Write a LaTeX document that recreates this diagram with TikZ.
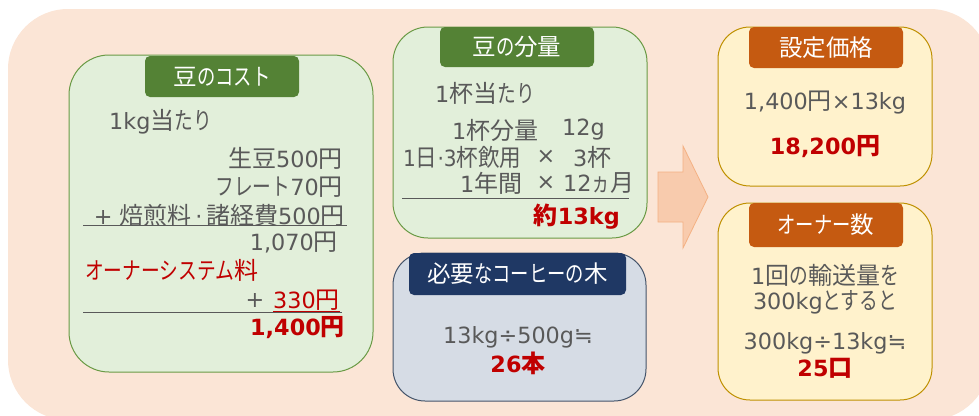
\documentclass[tikz,border=0pt]{standalone}
\usepackage{fontspec}
\usepackage{graphicx}
\setmainfont{Noto Sans CJK JP}
\newfontfamily\latfont{DejaVu Sans}[Scale=0.93]
\newfontfamily\knfont{Noto Sans CJK JP}[FakeStretch=0.78]
\newcommand\lat[1]{{\latfont#1}}
\newcommand\kn[1]{{\knfont#1}}
\definecolor{bgpeach}{HTML}{FBE5D6}
\definecolor{greenfill}{HTML}{E2EFDA}
\definecolor{greenline}{HTML}{6A9A45}
\definecolor{greentag}{HTML}{548235}
\definecolor{bluefill}{HTML}{D6DCE5}
\definecolor{blueline}{HTML}{44546A}
\definecolor{bluetag}{HTML}{1F3864}
\definecolor{yellowfill}{HTML}{FFF2CC}
\definecolor{yellowline}{HTML}{BF9000}
\definecolor{orangetag}{HTML}{C55A11}
\definecolor{arrowfill}{HTML}{F8CBAD}
\definecolor{arrowline}{HTML}{F4B183}
\definecolor{txtgray}{HTML}{595959}
\definecolor{txtred}{HTML}{C00000}
\tikzset{
  panel/.style={rectangle, inner sep=0pt, line width=1pt},
  greenbox/.style={panel, draw=greenline, fill=greenfill, rounded corners=40pt},
  bluebox/.style={panel, draw=blueline, fill=bluefill, rounded corners=32pt},
  yellowbox/.style={panel, draw=yellowline, fill=yellowfill, rounded corners=32pt},
  tag/.style={rectangle, rounded corners=5pt, inner sep=0pt, text=white,
    font=\fontsize{23.5}{27}\selectfont},
  body/.style={inner sep=0pt, text=txtgray, font=\fontsize{24}{28}\selectfont},
  red/.style={body, text=txtred},
  bred/.style={body, text=txtred, font=\fontsize{24}{28}\selectfont\bfseries},
  rule/.style={draw=txtgray, line width=0.9pt},
}
\begin{document}
\begin{tikzpicture}[x=1pt,y=-1pt]
\useasboundingbox (0,0) rectangle (979,415);
\fill[bgpeach, rounded corners=60pt] (8,9) rectangle (990,420);

% box 1
\node[greenbox, minimum width=304pt, minimum height=317pt] (b1) at (221,213.5) {};
\node[tag, fill=greentag, minimum width=154pt, minimum height=41pt] (t1) at (222,76.5) {豆\kn{のコスト}};
\node[body, anchor=west] (l11) at (109,122) {\lat{1kg}当\kn{たり}};
\node[body, anchor=east] (l12) at (343,158) {生豆\lat{500}円};
\node[body, anchor=east] (l13) at (343,187) {\kn{フレート}\lat{70}円};
\node[body, anchor=east] (l14) at (345,215) {\lat{+}\hspace{7pt}焙煎料\lat{\,·\,}諸経費\lat{500}円};
\draw[rule] (83,225.5) -- (347,225.5);
\node[body, anchor=east] (l15) at (338,243) {\lat{1,070}円};
\node[red, anchor=west] (l16) at (85,270) {\kn{オーナーシステム}料};
\node[red, anchor=east] (l17) at (340,300) {\lat{330}円};
\node[body] (l17p) at (255,300) {\lat{+}};
\draw[rule] (83,312.5) -- (342,312.5);
\draw[draw=txtred, line width=0.9pt] (l17.west |- 0,311) -- (340,311);
\node[bred, anchor=east] (l18) at (345,328) {\lat{1,400}円};

% box 2
\node[greenbox, rounded corners=35pt, minimum width=254pt, minimum height=211pt] (b2) at (520,132.5) {};
\node[tag, fill=greentag, minimum width=154pt, minimum height=40pt] (t2) at (517,47) {豆\kn{の}分量};
\node[body, anchor=west] (l21) at (435,93) {\lat{1}杯当\kn{たり}};
\node[body, anchor=west] (l22) at (452,130) {\lat{1}杯分量};
\node[body, anchor=west] (l22b) at (562,130) {\lat{12g}};
\node[body, anchor=west] (l23) at (403,157) {\scalebox{0.9}[1]{\lat{1}日\lat{·}\lat{3}杯飲用}};
\node[body] (l23x) at (546,157) {\lat{×}};
\node[body, anchor=west] (l23b) at (573,157) {\lat{3}杯};
\node[body, anchor=west] (l24) at (460,183) {\lat{1}年間};
\node[body] (l24x) at (546,183) {\lat{×}};
\node[body, anchor=west] (l24b) at (563,183) {\lat{12}\kn{ヵ}月};
\draw[rule] (402,198.5) -- (629,198.5);
\node[bred, anchor=east] (l25) at (620,217) {約\lat{13kg}};

% box 3
\node[bluebox, minimum width=253pt, minimum height=148pt] (b3) at (519.5,327) {};
\node[tag, fill=bluetag, minimum width=217pt, minimum height=42pt] (t3) at (517.5,274) {必要\kn{なコーヒーの}木};
\node[body] (l31) at (518,337) {\lat{13kg÷500g≒}};
\node[bred] (l32) at (518,363) {\lat{26}本};

% arrow
\filldraw[fill=arrowfill, draw=arrowline, line width=0.8pt]
  (658,172) -- (683,172) -- (683,146) -- (708,197) -- (683,248) -- (683,222) -- (658,222) -- cycle;

% box 4
\node[yellowbox, minimum width=214pt, minimum height=159pt] (b4) at (825,106.5) {};
\node[tag, fill=orangetag, minimum width=154pt, minimum height=41pt] (t4) at (826,47.5) {設定価格};
\node[body] (l41) at (825,103) {\lat{1,400}円\lat{×13kg}};
\node[bred] (l42) at (825,147) {\lat{18,200}円};

% box 5
\node[yellowbox, minimum width=214pt, minimum height=197pt] (b5) at (825,301.5) {};
\node[tag, fill=orangetag, minimum width=154pt, minimum height=44pt] (t5) at (826,225) {\kn{オーナー}数};
\node[body] (l51) at (825,275) {\lat{1}回\kn{の}輸送量\kn{を}};
\node[body] (l52) at (825,302) {\lat{300kg}\kn{とすると}};
\node[body] (l53) at (825,343) {\lat{300kg÷13kg≒}};
\node[bred] (l54) at (825,368) {\lat{25}口};
\end{tikzpicture}
\end{document}
